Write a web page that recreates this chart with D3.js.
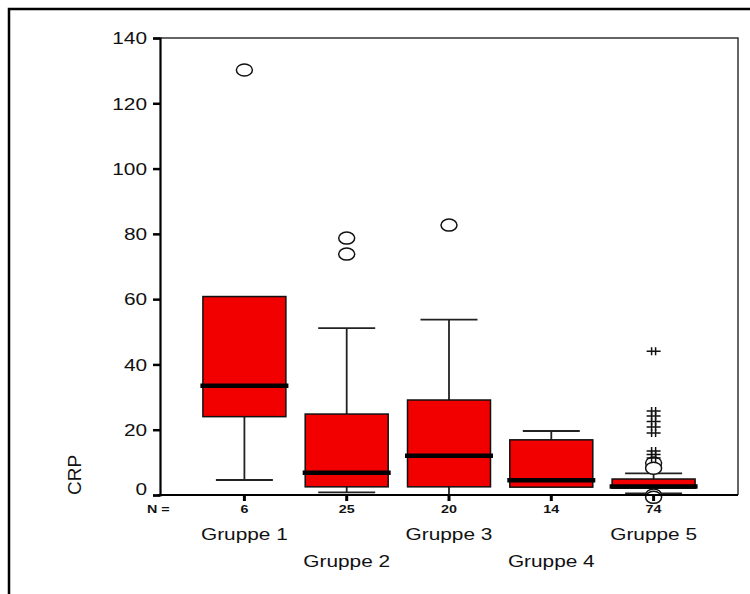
<!DOCTYPE html>
<html>
<head>
<meta charset="utf-8">
<script src="https://cdn.jsdelivr.net/npm/d3@7"></script>
<style>
  body { margin: 0; background: #fff; }
  text { font-family: "Liberation Sans", Arial, sans-serif; fill: #111; }
</style>
</head>
<body>
<script>
// group labels, counts and box statistics
var groups = ["Gruppe 1", "Gruppe 2", "Gruppe 3", "Gruppe 4", "Gruppe 5"];
var counts = ["6", "25", "20", "14", "74"];
var q1 = [24, 2.5, 2.5, 2.4, 2.1];
var median = [33.5, 6.8, 12, 4.5, 2.6];
var q3 = [60.8, 24.8, 29.1, 16.9, 4.9];
var whiskLo = [4.6, 0.8, 0, 2.4, 0.5];
var whiskHi = [60.8, 51.1, 53.7, 19.6, 6.6];
var outliers = [[130.2], [73.8, 78.7], [82.7], [], [9.8, 8.2, 0, -0.7]];
var extremes = [[], [], [], [], [44, 25.7, 24.2, 22.5, 20.8, 19.0, 13.5, 12.4, 11.3]];
var yTicks = [0, 20, 40, 60, 80, 100, 120, 140];

var W = 750, H = 594;
var plotLeft = 160, plotRight = 738, plotTop = 38, plotBottom = 495;
var stretchK = 1.3;

var svg = d3.select("body").append("svg")
    .attr("width", W)
    .attr("height", H);

svg.append("rect").attr("width", W).attr("height", H).attr("fill", "#fff");

// outer frame (only top and left visible)
svg.append("path")
    .attr("d", "M9,594 V9 H750")
    .attr("fill", "none")
    .attr("stroke", "#000")
    .attr("stroke-width", 2.5);

var x = d3.scalePoint().domain(groups).range([plotLeft, plotRight]).padding(0.825);
var y = d3.scaleLinear().domain([0, 140]).range([plotBottom, plotTop]);

function stretch(sel) {
    sel.each(function () {
        var w = this.getComputedTextLength();
        this.setAttribute("textLength", w * stretchK);
        this.setAttribute("lengthAdjust", "spacingAndGlyphs");
    });
}

// plot frame top/right
svg.append("path")
    .attr("d", "M" + plotLeft + "," + plotTop + " H" + plotRight + " V" + plotBottom)
    .attr("fill", "none")
    .attr("stroke", "#333")
    .attr("stroke-width", 1.5);

// y axis
var yAxis = svg.append("g")
    .attr("transform", "translate(" + plotLeft + ",0)")
    .call(d3.axisLeft(y).tickValues(yTicks).tickSize(7).tickPadding(6));
yAxis.select(".domain").attr("stroke", "#000").attr("stroke-width", 2.2);
yAxis.selectAll(".tick line").attr("stroke", "#000").attr("stroke-width", 2.5);
yAxis.selectAll(".tick text")
    .attr("font-size", 16)
    .attr("font-family", "Liberation Sans, Arial, sans-serif")
    .attr("fill", "#111")
    .attr("dy", function (d) { return d === 0 ? "-0.05em" : "0.36em"; })
    .call(stretch);

var boxW = 83, capW = 57;

var g = svg.append("g");
groups.forEach(function (name, i) {
    var cx = x(name);
    // whiskers
    if (whiskHi[i] > q3[i]) {
        g.append("line").attr("x1", cx).attr("x2", cx)
            .attr("y1", y(q3[i])).attr("y2", y(whiskHi[i]))
            .attr("stroke", "#222").attr("stroke-width", 1.8);
        g.append("line").attr("x1", cx - capW / 2).attr("x2", cx + capW / 2)
            .attr("y1", y(whiskHi[i])).attr("y2", y(whiskHi[i]))
            .attr("stroke", "#222").attr("stroke-width", 1.8);
    }
    if (whiskLo[i] < q1[i]) {
        g.append("line").attr("x1", cx).attr("x2", cx)
            .attr("y1", y(q1[i])).attr("y2", y(whiskLo[i]))
            .attr("stroke", "#222").attr("stroke-width", 1.8);
        g.append("line").attr("x1", cx - capW / 2).attr("x2", cx + capW / 2)
            .attr("y1", y(whiskLo[i])).attr("y2", y(whiskLo[i]))
            .attr("stroke", "#222").attr("stroke-width", 1.8);
    }
    // box
    g.append("rect")
        .attr("x", cx - boxW / 2)
        .attr("y", y(q3[i]))
        .attr("width", boxW)
        .attr("height", y(q1[i]) - y(q3[i]))
        .attr("fill", "#f20000")
        .attr("stroke", "#111")
        .attr("stroke-width", 1.5);
    // median
    g.append("line")
        .attr("x1", cx - boxW / 2 - 2.5).attr("x2", cx + boxW / 2 + 2.5)
        .attr("y1", y(median[i])).attr("y2", y(median[i]))
        .attr("stroke", "#000").attr("stroke-width", 4.5);
    // outliers
    outliers[i].forEach(function (v) {
        g.append("ellipse")
            .attr("cx", cx).attr("cy", y(v))
            .attr("rx", 8).attr("ry", 6)
            .attr("fill", "#fff").attr("stroke", "#111").attr("stroke-width", 1.5);
    });
    // extremes (asterisks)
    extremes[i].forEach(function (v) {
        g.append("path")
            .attr("transform", "translate(" + cx + "," + y(v) + ")")
            .attr("d", "M-7,0 H7 M-2,-4 V4 M2,-4 V4")
            .attr("fill", "none").attr("stroke", "#111").attr("stroke-width", 1.5);
    });
});

// x axis (drawn over the boxes)
svg.append("line")
    .attr("x1", plotLeft - 2).attr("x2", plotRight)
    .attr("y1", plotBottom).attr("y2", plotBottom)
    .attr("stroke", "#000").attr("stroke-width", 2.2);

groups.forEach(function (name, i) {
    var cx = x(name);
    svg.append("line")
        .attr("x1", cx).attr("x2", cx)
        .attr("y1", plotBottom).attr("y2", plotBottom + 6)
        .attr("stroke", "#000").attr("stroke-width", 3);
    svg.append("text")
        .attr("x", cx).attr("y", plotBottom + 18)
        .attr("text-anchor", "middle")
        .attr("font-size", 11).attr("font-weight", "bold")
        .text(counts[i])
        .call(stretch);
    svg.append("text")
        .attr("x", cx).attr("y", i % 2 === 0 ? 540 : 567)
        .attr("text-anchor", "middle")
        .attr("font-size", 16)
        .text(name)
        .call(stretch);
});

svg.append("text")
    .attr("x", 147).attr("y", plotBottom + 18)
    .attr("font-size", 11).attr("font-weight", "bold")
    .text("N =")
    .call(stretch);

svg.append("text")
    .attr("transform", "translate(81,475) rotate(-90)")
    .attr("text-anchor", "middle")
    .attr("font-size", 19)
    .text("CRP");
</script>
</body>
</html>
